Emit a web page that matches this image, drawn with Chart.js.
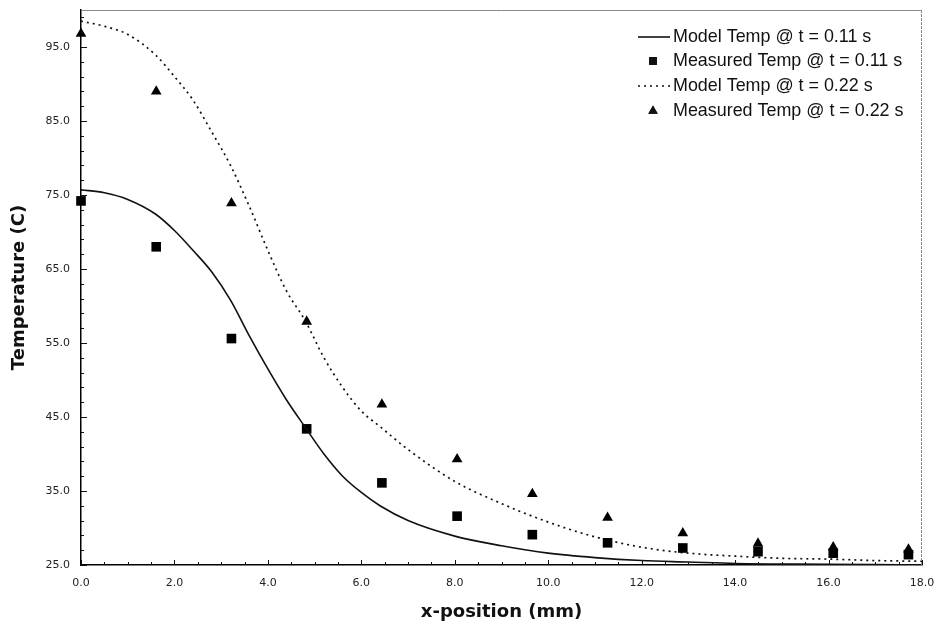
<!DOCTYPE html>
<html><head><meta charset="utf-8">
<script src="https://cdn.jsdelivr.net/npm/chart.js@4.4.0/dist/chart.umd.min.js"></script>
<style>html,body{margin:0;padding:0;background:#fff}</style>
</head><body>
<canvas id="c" width="943" height="625" style="width:943px;height:625px;display:block"></canvas>
<script>
// ---- data ----
const measuredX = [0, 1.61, 3.22, 4.83, 6.44, 8.05, 9.66, 11.27, 12.88, 14.49, 16.1, 17.71];
const measured011 = [74.2, 68.0, 55.6, 43.4, 36.1, 31.6, 29.1, 28.0, 27.3, 26.8, 26.6, 26.4];
const measured022 = [96.8, 89.0, 73.9, 57.9, 46.7, 39.3, 34.6, 31.4, 29.3, 27.9, 27.4, 27.1];
const model011X = [0, 0.5, 1.0, 1.6, 2.0, 2.4, 2.8, 3.2, 3.6, 4.0, 4.4, 4.8, 5.2, 5.6, 6.0, 6.4, 7.0, 8.0, 9.0, 10.0, 11.0, 12.0, 13.0, 14.0, 16.0, 18.0];
const model011Y = [75.7, 75.3, 74.4, 72.4, 70.2, 67.5, 64.6, 60.8, 56.0, 51.5, 47.3, 43.6, 40.0, 37.0, 34.8, 33.0, 31.0, 28.9, 27.6, 26.6, 26.0, 25.6, 25.4, 25.2, 25.1, 25.0];
const model022X = [0, 0.5, 1.0, 1.6, 2.0, 2.4, 2.8, 3.2, 3.6, 4.0, 4.4, 4.8, 5.2, 5.6, 6.0, 6.4, 7.0, 8.0, 9.0, 10.0, 11.0, 12.0, 13.0, 14.0, 15.0, 16.0, 17.0, 18.0];
const model022Y = [98.5, 97.8, 96.7, 93.9, 91.0, 87.8, 83.5, 79.0, 73.5, 67.5, 62.0, 58.0, 53.0, 49.0, 45.8, 43.7, 40.6, 36.3, 33.3, 30.8, 28.8, 27.4, 26.6, 26.2, 25.9, 25.8, 25.6, 25.5];
const xTicks = [0, 2, 4, 6, 8, 10, 12, 14, 16, 18];
const yTicks = [25, 35, 45, 55, 65, 75, 85, 95];
const seriesLabels = ['Model Temp @ t = 0.11 s', 'Measured Temp @ t = 0.11 s', 'Model Temp @ t = 0.22 s', 'Measured Temp @ t = 0.22 s'];
const xTitle = 'x-position (mm)';
const yTitle = 'Temperature (C)';

const pts = (xs, ys) => xs.map((x, i) => ({x: x, y: ys[i]}));

// inward ticks drawn through the scales
const innerTicks = {
  id: 'innerTicks',
  afterDraw(chart) {
    const {ctx, chartArea: a, scales: {x, y}} = chart;
    ctx.save();
    ctx.strokeStyle = '#111';
    ctx.lineWidth = 1;
    ctx.beginPath();
    for (let v = 25; v <= 100.001; v += 2) {
      const py = Math.round(y.getPixelForValue(v)) + 0.5;
      ctx.moveTo(a.left, py); ctx.lineTo(a.left + 3, py);
    }
    yTicks.forEach(v => {
      const py = Math.round(y.getPixelForValue(v)) + 0.5;
      ctx.moveTo(a.left, py); ctx.lineTo(a.left + 6, py);
    });
    for (let v = 0; v <= 18.001; v += 0.5) {
      const px = Math.round(x.getPixelForValue(v)) + 0.5;
      ctx.moveTo(px, a.bottom); ctx.lineTo(px, a.bottom - 3);
    }
    xTicks.forEach(v => {
      const px = Math.round(x.getPixelForValue(v)) + 0.5;
      ctx.moveTo(px, a.bottom); ctx.lineTo(px, a.bottom - 5);
    });
    ctx.stroke();
    // top and right frame
    ctx.strokeStyle = '#888';
    ctx.beginPath();
    ctx.moveTo(a.left, a.top + 0.5); ctx.lineTo(a.right, a.top + 0.5);
    ctx.stroke();
    ctx.setLineDash([3, 1]);
    ctx.beginPath();
    ctx.moveTo(a.right - 0.5, a.top); ctx.lineTo(a.right - 0.5, a.bottom);
    ctx.stroke();
    ctx.restore();
  }
};

// legend inside the plot area
const innerLegend = {
  id: 'innerLegend',
  afterDraw(chart) {
    const ctx = chart.ctx;
    ctx.save();
    ctx.font = '17.9px "Liberation Sans", Arial, sans-serif';
    ctx.textBaseline = 'middle';
    const rows = [37, 61, 86, 111];
    const textX = 673;
    chart.data.datasets.forEach((ds, i) => {
      const yy = rows[i];
      ctx.fillStyle = '#111';
      ctx.fillText(ds.label, textX, yy);
      ctx.strokeStyle = '#111';
      if (ds.showLine) {
        ctx.lineWidth = ds.borderWidth;
        ctx.setLineDash(ds.borderDash || []);
        ctx.beginPath(); ctx.moveTo(638, yy); ctx.lineTo(670, yy); ctx.stroke();
        ctx.setLineDash([]);
      } else {
        Chart.helpers.drawPoint(ctx, {pointStyle: ds.pointStyle, radius: 5.5, rotation: 0, borderWidth: 0}, 653, yy);
        ctx.fill();
      }
    });
    ctx.restore();
  }
};

const tickFont = {family: '"DejaVu Sans", sans-serif', size: 11};
const titleFont = {family: '"DejaVu Sans", sans-serif', size: 18, weight: 'bold'};

new Chart(document.getElementById('c'), {
  type: 'scatter',
  data: {
    datasets: [
      {label: seriesLabels[0], data: pts(model011X, model011Y), showLine: true, borderColor: '#111', borderWidth: 1.6, pointRadius: 0, cubicInterpolationMode: 'monotone'},
      {label: seriesLabels[1], data: pts(measuredX, measured011), showLine: false, clip: false, pointStyle: 'rect', pointRadius: 6.8, backgroundColor: '#000', borderColor: '#000', borderWidth: 0},
      {label: seriesLabels[2], data: pts(model022X, model022Y), showLine: true, borderColor: '#111', borderWidth: 1.7, borderDash: [2, 4], pointRadius: 0, cubicInterpolationMode: 'monotone'},
      {label: seriesLabels[3], data: pts(measuredX, measured022), showLine: false, clip: false, pointStyle: 'triangle', pointRadius: 6.2, backgroundColor: '#000', borderColor: '#000', borderWidth: 0}
    ]
  },
  options: {
    responsive: false,
    animation: false,
    devicePixelRatio: 1,
    layout: {padding: {left: 0, top: 10, right: 21, bottom: 0}},
    plugins: {legend: {display: false}, tooltip: {enabled: false}},
    scales: {
      x: {
        type: 'linear', min: 0, max: 18,
        afterBuildTicks: s => { s.ticks = xTicks.map(v => ({value: v})); },
        afterFit: s => { s.height = 60; s.paddingLeft = 0; s.paddingRight = 0; },
        grid: {display: false, drawTicks: false},
        border: {display: true, color: '#000', width: 1.5},
        ticks: {padding: 12, color: '#222', font: tickFont, callback: v => v.toFixed(1), maxRotation: 0, autoSkip: false},
        title: {display: true, text: xTitle, color: '#111', padding: {top: 0, bottom: 2}, font: titleFont}
      },
      y: {
        type: 'linear', min: 25, max: 100,
        afterBuildTicks: s => { s.ticks = yTicks.map(v => ({value: v})); },
        afterFit: s => { s.width = 81; s.paddingTop = 0; s.paddingBottom = 0; },
        grid: {display: false, drawTicks: false},
        border: {display: true, color: '#000', width: 1.5},
        ticks: {padding: 11, color: '#222', font: tickFont, callback: v => v.toFixed(1), autoSkip: false},
        title: {display: true, text: yTitle, color: '#111', padding: {top: 9, bottom: 0}, font: titleFont}
      }
    }
  },
  plugins: [innerTicks, innerLegend]
});
</script>
</body></html>
